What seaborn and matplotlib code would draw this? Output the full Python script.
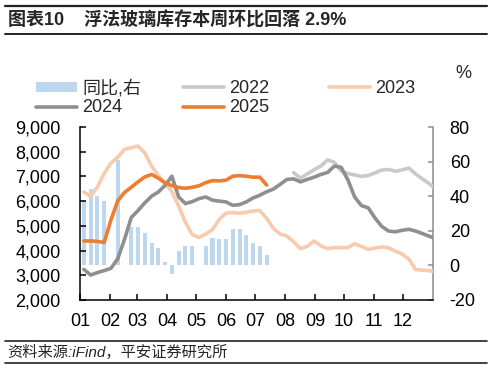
import numpy as np
import pandas as pd
import matplotlib
matplotlib.use("Agg")
import matplotlib.pyplot as plt
import seaborn as sns
from matplotlib.lines import Line2D
from matplotlib.patches import Patch
from matplotlib.ticker import FixedLocator, FuncFormatter

# ---------------- data ----------------
month_labels = ["01", "02", "03", "04", "05", "06", "07", "08", "09", "10", "11", "12"]
month_start_days = [0, 31, 59, 90, 120, 151, 181, 212, 243, 273, 304, 334]
week_days = [4 + 7 * k for k in range(53)]  # weekly observation dates (day of year)

yoy_pct = [38, 44, 40, 37, None, 61, None, 22, 22, 18.5,
           13, 10, 2, -5, 8.5, 11, 11, None, 11.3, 15.7,
           15, 15, 21, 21, 17.5, 13, 11.3, 6] + [None] * 25

inv_2022 = [None] * 31 + [7150, 6930, 7100, 7270, 7420, 7670, 7570, 7220, 7120, 7060,
                          7000, 7040, 7140, 7260, 7280, 7210, 7260, 7340, 7100, 6900,
                          6710, 6490]
inv_2023 = [6370, 6190, 6570, 7120, 7540, 7770, 8100, 8160, 8230, 7950,
            7420, 7040, 6710, 6390, 5800, 5140, 4650, 4530, 4670, 4850,
            5260, 5510, 5540, 5510, 5550, 5600, 5620, 5300, 4890, 4670,
            4590, 4350, 4080, 4170, 4390, 4190, 4080, 4120, 4120, 4120,
            4270, 4170, 4050, 4100, 4150, 4110, 3980, 3860, 3660, 3230,
            3210, 3190, 3130]
inv_2024 = [3240, 3010, 3110, 3190, 3280, 3670, 4450, 5340, 5620, 5930,
            6200, 6370, 6640, 7010, 6170, 5900, 5980, 6100, 6170, 6040,
            6000, 5970, 5830, 5860, 5970, 6130, 6240, 6380, 6490, 6680,
            6880, 6900, 6780, 6880, 6970, 7080, 7160, 7420, 7370, 6860,
            6170, 5820, 5730, 5320, 4980, 4790, 4760, 4820, 4860, 4790,
            4690, 4580, 4490]
inv_2025 = [4390, 4390, 4370, 4330, 5240, 6010, 6350, 6560, 6780, 6980,
            7080, 6930, 6740, 6630, 6550, 6520, 6560, 6620, 6750, 6830,
            6820, 6850, 7010, 7030, 7010, 6970, 6970, 6650] + [None] * 25

series_names = ["2022", "2023", "2024", "2025"]
series_values = [inv_2022, inv_2023, inv_2024, inv_2025]
bar_label = "同比,右"

# ---------------- style ----------------
colors = {"2022": "#C9C9C9", "2023": "#F8CBAD", "2024": "#8F8F8F", "2025": "#ED7D31"}
bar_color = "#BDD7EE"

sns.set_theme(style="white")
plt.rcParams['font.family'] = ['Liberation Sans', 'Noto Sans CJK SC', 'DejaVu Sans']
plt.rcParams['axes.unicode_minus'] = False

W, H = 493, 370
fig = plt.figure(figsize=(W / 100, H / 100), dpi=100)
fig.patch.set_facecolor("white")
ax = fig.add_axes([80 / W, 1 - 300 / H, (433 - 80) / W, (300 - 127) / H])
ax2 = ax.twinx()

# bars (right axis)
bar_df = pd.DataFrame({"day": week_days, "yoy": pd.array(yoy_pct, dtype="Float64")}).dropna()
bar_df["yoy"] = bar_df["yoy"].astype(float)
sns.barplot(data=bar_df, x="day", y="yoy", native_scale=True, width=0.6,
            color=bar_color, saturation=1, linewidth=0, errorbar=None, ax=ax2)

# lines (left axis)
frames = []
for name, vals in zip(series_names, series_values):
    frames.append(pd.DataFrame({"day": week_days,
                                "value": pd.array(vals, dtype="Float64"),
                                "year": name}))
line_df = pd.concat(frames).dropna()
line_df["value"] = line_df["value"].astype(float)
sns.lineplot(data=line_df, x="day", y="value", hue="year", hue_order=series_names,
             palette=colors, linewidth=2.6, legend=False, ax=ax, sort=True,
             estimator=None)

ax.set_zorder(ax2.get_zorder() + 1)
ax.patch.set_visible(False)

# axes limits / ticks
ax.set_xlim(0, 365)
ax.set_ylim(2000, 9000)
ax2.set_ylim(-20, 80)
ax.xaxis.set_major_locator(FixedLocator(month_start_days))
ax.set_xticklabels(month_labels)
ax.yaxis.set_major_locator(FixedLocator(list(range(2000, 9001, 1000))))
ax.yaxis.set_major_formatter(FuncFormatter(lambda v, p: f"{int(v):,}"))
ax2.yaxis.set_major_locator(FixedLocator(list(range(-20, 81, 20))))
ax2.yaxis.set_major_formatter(FuncFormatter(lambda v, p: f"{int(v)}"))
ax.set_xlabel("")
ax.set_ylabel("")
ax2.set_xlabel("")
ax2.set_ylabel("")

for s in ["top", "right"]:
    ax.spines[s].set_visible(False)
for s in ["top", "left", "bottom"]:
    ax2.spines[s].set_visible(False)
ax.spines["left"].set_color("black")
ax.spines["bottom"].set_color("black")
ax.spines["left"].set_linewidth(1.1)
ax.spines["bottom"].set_linewidth(1.1)
ax2.spines["right"].set_color("#8C8C8C")
ax2.spines["right"].set_linewidth(1.1)

ax.tick_params(axis="x", direction="in", length=4.5, width=1.1, color="black",
               pad=9, labelsize=13, labelcolor="black", bottom=True)
ax.tick_params(axis="y", direction="in", length=4.5, width=1.1, color="black",
               pad=14, labelsize=13, labelcolor="black", left=True)
ax2.tick_params(axis="y", direction="in", length=3.5, width=1.1, color="#8C8C8C",
                pad=12, labelsize=13, labelcolor="black", right=True)
ax.grid(False)
ax2.grid(False)

# legend (one entry per slot, like the original's fixed-width layout)
entries = [
    (Patch(facecolor=bar_color, edgecolor="none"), bar_label, 36, 88.5),
    (Line2D([], [], color=colors["2022"], lw=2.6), "2022", 183, 88.5),
    (Line2D([], [], color=colors["2023"], lw=2.6), "2023", 329, 88.5),
    (Line2D([], [], color=colors["2024"], lw=2.6), "2024", 36, 108),
    (Line2D([], [], color=colors["2025"], lw=2.6), "2025", 183, 108),
]
for h, lab, x, y in entries:
    fig.legend(handles=[h], labels=[lab], loc="center left",
               bbox_to_anchor=(x / W, 1 - y / H), frameon=False, fontsize=13,
               handlelength=2.25, handleheight=0.55, handletextpad=0.3,
               borderpad=0, borderaxespad=0)

fig.text(463 / W, 1 - 74 / H, "%", fontsize=13, ha="center", va="center")

# title and source
fig.text(8 / W, 1 - 20 / H, "图表10    浮法玻璃库存本周环比回落 2.9%",
         fontsize=13, fontweight="bold", ha="left", va="center")
fig.text(7 / W, 1 - 352 / H, "资料来源:iFind，平安证券研究所",
         fontsize=11, style="italic", ha="left", va="center")

for yy, lw in [(5.5, 1.6), (33.5, 1.4), (340.7, 1.2), (362.7, 1.2)]:
    fig.add_artist(Line2D([5 / W, 487 / W], [1 - yy / H, 1 - yy / H],
                          transform=fig.transFigure, color="#222222", lw=lw))

fig.savefig("out.png", dpi=100)
